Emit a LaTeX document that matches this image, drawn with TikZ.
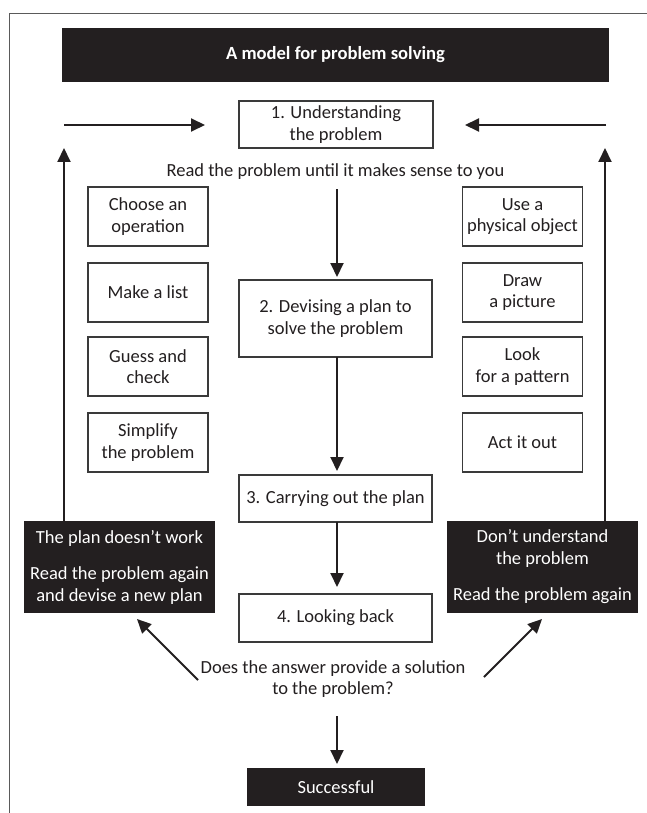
\documentclass[tikz,border=0pt]{standalone}
\usepackage{fontspec}
\setmainfont{Carlito}
\usetikzlibrary{arrows.meta}
\definecolor{ink}{HTML}{231F20}
\definecolor{edge}{HTML}{3A3A3A}
\definecolor{framec}{HTML}{5A5A5A}
\begin{document}
\begin{tikzpicture}[x=1pt,y=-1pt,
  every node/.style={font=\fontsize{18.5}{21.5}\selectfont, text=ink, inner sep=0pt, align=center},
  box/.style={draw=edge, line width=1.1pt, fill=white},
  sidebox/.style={box, minimum width=120pt, minimum height=59pt},
  dark/.style={fill=ink, text=white},
  arr/.style={line width=2pt, draw=ink, -{Triangle[length=14pt,width=13pt]}}
]
\fill[white] (0,0) rectangle (647,813);
\useasboundingbox (0,0) rectangle (647,813);
% frame
\draw[framec, line width=0.9pt] (9,813) -- (9,13) -- (647,13);
% title
\node[dark, minimum width=547pt, minimum height=54pt, font=\fontsize{18.6}{21.5}\selectfont\bfseries] (title) at (335.5,55) {A model for problem solving};
% main steps
\node[box, minimum width=194pt, minimum height=47pt] (b1) at (336,124.5) {1. Understanding\\the problem};
\node[anchor=base] (read) at (335.5,177) {Read the problem until it makes sense to you};
\node[box, minimum width=193pt, minimum height=77pt] (b2) at (335.5,318.5) {2. Devising a plan to\\solve the problem};
\node[box, minimum width=193pt, minimum height=47pt] (b3) at (335.5,498.5) {3. Carrying out the plan};
\node[box, minimum width=193pt, minimum height=48pt] (b4) at (335.5,618) {4. Looking back};
\node (ask) at (333,679) {Does the answer provide a solution\\to the problem?};
\node[dark, minimum width=178pt, minimum height=38pt] (succ) at (336,787) {Successful};
% left strategies
\node[sidebox] (l1) at (148,216.5) {Choose an\\operation};
\node[sidebox] (l2) at (148,292.5) {Make a list};
\node[sidebox] (l3) at (148,366.5) {Guess and\\check};
\node[sidebox] (l4) at (148,442.5) {Simplify\\the problem};
% right strategies
\node[sidebox] (r1) at (522.5,216.5) {Use a\\physical object};
\node[sidebox] (r2) at (522.5,292.5) {Draw\\a picture};
\node[sidebox] (r3) at (522.5,366.5) {Look\\for a pattern};
\node[sidebox] (r4) at (522.5,442.5) {Act it out};
% feedback boxes
\node[dark, minimum width=191pt, minimum height=92pt] (fl) at (119.5,567) {The plan doesn’t work\\[15pt]Read the problem again\\and devise a new plan};
\node[dark, minimum width=191pt, minimum height=92pt] (fr) at (542.5,567) {Don’t understand\\the problem\\[15pt]Read the problem again};
% coordinates for free ends
\coordinate (lup) at (64,521);
\coordinate (ltop) at (64,148);
\coordinate (lh) at (64,125);
\coordinate (lhe) at (205,125);
\coordinate (rup) at (605,521);
\coordinate (rtop) at (605,148);
\coordinate (rh) at (606,125);
\coordinate (rhe) at (465,125);
\coordinate (c0) at (337,189);
\coordinate (c1) at (337,277);
\coordinate (c2s) at (337,357);
\coordinate (c2) at (337,471);
\coordinate (c3s) at (337,522);
\coordinate (c3) at (337,587);
\coordinate (c4s) at (337,716);
\coordinate (c4) at (337,764);
\coordinate (dls) at (198,680);
\coordinate (dle) at (137,619);
\coordinate (drs) at (484,677);
\coordinate (dre) at (542,619);
% arrows
\draw[arr] (lup) -- (ltop);
\draw[arr] (rup) -- (rtop);
\draw[arr] (lh) -- (lhe);
\draw[arr] (rh) -- (rhe);
\draw[arr] (c0) -- (c1);
\draw[arr] (c2s) -- (c2);
\draw[arr] (c3s) -- (c3);
\draw[arr] (c4s) -- (c4);
\draw[arr] (dls) -- (dle);
\draw[arr] (drs) -- (dre);
\end{tikzpicture}
\end{document}
